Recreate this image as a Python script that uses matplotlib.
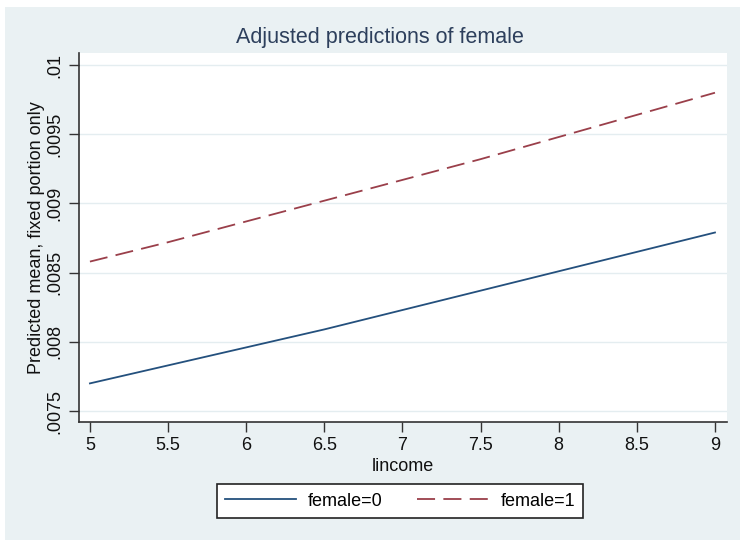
import numpy as np
import matplotlib.pyplot as plt
from matplotlib.patches import Rectangle
from matplotlib.ticker import FixedLocator

# predicted means at each lincome value
lincome = [5, 5.5, 6, 6.5, 7, 7.5, 8, 8.5, 9]
female0 = [0.00770, 0.00783, 0.00796, 0.00809, 0.00823, 0.00837, 0.00851, 0.00865, 0.00879]
female1 = [0.00858, 0.00872, 0.00887, 0.00902, 0.00917, 0.00932, 0.00948, 0.00964, 0.00980]

yticks = [0.0075, 0.008, 0.0085, 0.009, 0.0095, 0.01]
ylabels = [".0075", ".008", ".0085", ".009", ".0095", ".01"]
xticks = [5, 5.5, 6, 6.5, 7, 7.5, 8, 8.5, 9]
xlabels = ["5", "5.5", "6", "6.5", "7", "7.5", "8", "8.5", "9"]

plt.rcParams['font.family'] = ['Liberation Sans Narrow', 'Liberation Sans', 'DejaVu Sans']

navy = '#24507d'
maroon = '#9a3f4a'
bg = '#eaf1f3'

fig = plt.figure(figsize=(7.4, 5.4), dpi=100)
fig.patch.set_facecolor('white')
# graph region panel (behind the axes)
fig.add_artist(Rectangle((5/740, 0), 1, 1 - 7/540, transform=fig.transFigure,
                         facecolor=bg, edgecolor='none', zorder=-10))

ax = fig.add_axes([79/740, 1 - 422/540, (727 - 79)/740, (422 - 53)/540])
ax.set_zorder(1)
ax.set_facecolor('white')

ax.plot(lincome, female0, color=navy, lw=1.3, label='female=0')
ax.plot(lincome, female1, color=maroon, lw=1.3, dashes=(10, 4.6), label='female=1')

ax.set_xlim(4.93, 9.077)
ax.set_ylim(0.007421, 0.010087)

ax.yaxis.set_major_locator(FixedLocator(yticks))
ax.set_yticklabels(ylabels, rotation=90, va='center', fontsize=13)
ax.xaxis.set_major_locator(FixedLocator(xticks))
ax.set_xticklabels(xlabels, fontsize=13)
ax.grid(axis='y', color='#e4edf0', lw=1)
ax.set_axisbelow(True)

for s in ['top', 'right']:
    ax.spines[s].set_visible(False)
for s in ['left', 'bottom']:
    ax.spines[s].set_color('#333333')
    ax.spines[s].set_linewidth(1.2)
ax.tick_params(direction='out', length=7, width=1, color='#333333', labelcolor='#111111', pad=4)

ax.set_xlabel('lincome', fontsize=13, labelpad=3, color='#111111')
ax.set_ylabel('Predicted mean, fixed portion only', fontsize=13, labelpad=1, color='#111111')
fig.text(380/740, 1 - 38/540, 'Adjusted predictions of female', fontsize=15.5,
         color='#2d3f5c', ha='center', va='center')

leg = fig.legend(loc='center', bbox_to_anchor=(400/740, 1 - 501/540), ncol=2,
                 fontsize=13, frameon=True, fancybox=False, framealpha=1,
                 handlelength=3.9, handletextpad=0.7, columnspacing=1.9, borderpad=0.45)
leg.get_frame().set_edgecolor('#222222')
leg.get_frame().set_linewidth(1.2)
leg.get_frame().set_facecolor('white')

fig.savefig('out.png', dpi=100, facecolor=fig.get_facecolor())
